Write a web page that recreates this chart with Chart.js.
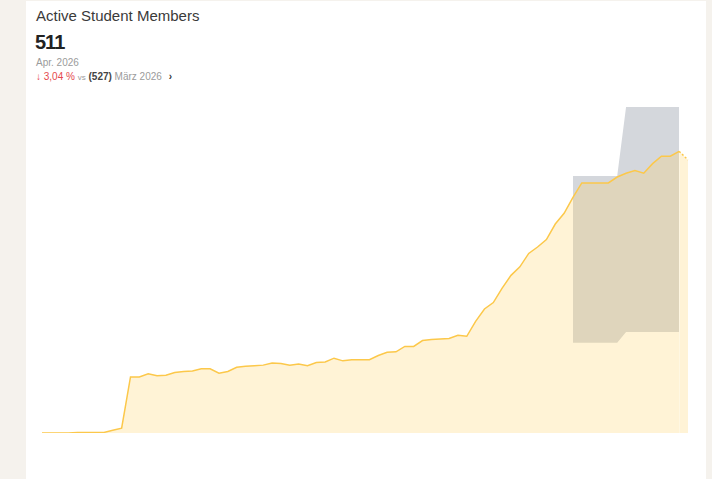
<!DOCTYPE html>
<html>
<head>
<meta charset="utf-8">
<script src="https://cdn.jsdelivr.net/npm/chart.js@4.4.1/dist/chart.umd.min.js"></script>
<style>
  html, body { margin: 0; padding: 0; }
  body { width: 712px; height: 479px; background: #f5f2ed; position: relative; overflow: hidden;
         font-family: "Liberation Sans", Arial, sans-serif; }
  .card { position: absolute; left: 26px; top: 1px; width: 680px; height: 478px; background: #fff; }
  .title { position: absolute; left: 36px; top: 7px; font-size: 15px; color: #3a3a3a; }
  .value { position: absolute; left: 35px; top: 31px; font-size: 20px; font-weight: bold; color: #222; letter-spacing: -1px; }
  .period { position: absolute; left: 36px; top: 57px; font-size: 10px; color: #9b9b9b; }
  .compare { position: absolute; left: 36px; top: 71px; font-size: 10px; color: #9b9b9b; white-space: nowrap; }
  .compare .down { color: #e5484d; }
  .compare .vs { font-size: 8px; }
  .compare b { color: #444; }
  .compare .chev { color: #333; font-weight: bold; margin-left: 4px; }
  #wrap { position: absolute; left: 36px; top: 100px; width: 658px; height: 340px; }
</style>
</head>
<body>
<div class="card"></div>
<div class="title">Active Student Members</div>
<div class="value">511</div>
<div class="period">Apr. 2026</div>
<div class="compare"><span class="down">↓ 3,04 %</span> <span class="vs">vs</span> <b>(527)</b> März 2026 <span class="chev">›</span></div>
<div id="wrap"><canvas id="chart"></canvas></div>
<script>
// Monatswerte März 2020 bis Apr. 2026
const mitglieder = [
  0, 0, 0, 0, 1, 1, 1, 1, 5, 9,
  105, 105, 111, 107, 108, 113, 115, 116, 120, 120,
  112, 115, 123, 125, 126, 127, 131, 130, 127, 129,
  126, 132, 133, 140, 135, 137, 137, 137, 145, 151,
  152, 162, 162, 173, 175, 176, 177, 183, 181, 209,
  232, 244, 271, 295, 311, 336, 348, 362, 391, 411,
  441, 468, 468, 468, 468, 479, 486, 491, 486, 504,
  518, 518, 527, 511
];

// Zielkorridor (obere / untere Grenze), nur für die letzten Monate
const korridorOben = [
  481, 481, 481, 481, 481, 481,
  610, 610, 610, 610, 610, 610, 610
];
const korridorUnten = [
  169, 169, 169, 169, 169, 169,
  189, 189, 189, 189, 189, 189, 189
];
const korridorStart = 60;

const monate = ['Jan.', 'Feb.', 'März', 'Apr.', 'Mai', 'Juni', 'Juli', 'Aug.', 'Sep.', 'Okt.', 'Nov.', 'Dez.'];
const etiquetas = [];
for (let i = 0; i < mitglieder.length; i++) {
  const m = 2 + i; // März 2020 = index 0
  etiquetas.push(monate[m % 12] + ' ' + (2020 + Math.floor(m / 12)));
}

const pad = (arr) => etiquetas.map((_, i) => {
  const k = i - korridorStart;
  return (k >= 0 && k < arr.length) ? arr[k] : null;
});

const ctx = document.getElementById('chart').getContext('2d');
new Chart(ctx, {
  type: 'line',
  data: {
    labels: etiquetas,
    datasets: [
      {
        label: 'Mitglieder',
        data: mitglieder,
        borderColor: '#fcc84a',
        borderWidth: 1.5,
        backgroundColor: 'rgba(255, 208, 95, 0.26)',
        fill: 'origin',
        pointRadius: 0,
        tension: 0,
        order: 0,
        segment: {
          borderDash: c => c.p1DataIndex === mitglieder.length - 1 ? [2, 2] : undefined
        }
      },
      {
        label: 'Korridor oben',
        data: pad(korridorOben),
        borderWidth: 0,
        borderColor: 'rgba(0,0,0,0)',
        backgroundColor: '#d4d7dc',
        fill: '+1',
        pointRadius: 0,
        tension: 0,
        order: 1
      },
      {
        label: 'Korridor unten',
        data: pad(korridorUnten),
        borderWidth: 0,
        borderColor: 'rgba(0,0,0,0)',
        fill: false,
        pointRadius: 0,
        tension: 0,
        order: 2
      }
    ]
  },
  options: {
    responsive: true,
    maintainAspectRatio: false,
    animation: false,
    layout: { padding: { left: 6, right: 6, top: 7, bottom: 7 } },
    plugins: {
      legend: { display: false },
      tooltip: { enabled: false }
    },
    scales: {
      x: { display: false },
      y: { display: false, min: 0, max: 610 }
    }
  }
});
</script>
</body>
</html>
